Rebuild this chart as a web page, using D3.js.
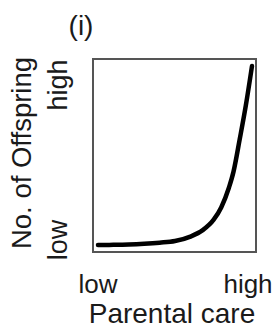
<!DOCTYPE html>
<html lang="en">

<head>
    <meta charset="UTF-8">
    <script src="https://d3js.org/d3.v7.min.js"></script>
    <title>Parental care</title>
    <style>
        body { margin: 0; background: #fff; }
        text { font-family: "Liberation Sans", Arial, sans-serif; fill: #1a1a1a; }
    </style>
</head>

<body>
    <svg width="274" height="331" id="mainsvg"></svg>
    <script>
        // parental care (0 = low, 1 = high) vs number of offspring (0 = low, 1 = high)
        const care = [0, 0.1, 0.2, 0.3, 0.4, 0.5, 0.6, 0.68, 0.75, 0.8, 0.85, 0.88, 0.92, 0.96, 1];
        const offspring = [0, 0.001, 0.003, 0.007, 0.013, 0.022, 0.047, 0.083, 0.14, 0.21, 0.32, 0.41, 0.59, 0.78, 1];
        const tickLabels = ['low', 'high'];

        const svg = d3.select('#mainsvg');
        const box = { left: 93, right: 256, top: 59, bottom: 252 };

        const xScale = d3.scaleLinear().domain([0, 1]).range([98, 252]);
        const yScale = d3.scaleLinear().domain([0, 1]).range([245, 66]);

        svg.append('rect')
            .attr('x', box.left).attr('y', box.top)
            .attr('width', box.right - box.left)
            .attr('height', box.bottom - box.top)
            .attr('fill', 'none')
            .attr('stroke', '#555')
            .attr('stroke-width', 2);

        const line = d3.line()
            .x((d, i) => xScale(care[i]))
            .y(d => yScale(d))
            .curve(d3.curveMonotoneX);

        svg.append('path')
            .attr('d', line(offspring))
            .attr('fill', 'none')
            .attr('stroke', '#000')
            .attr('stroke-width', 4.5)
            .attr('stroke-linecap', 'round');

        // x tick labels
        svg.selectAll('.xtick').data(tickLabels).enter().append('text')
            .attr('class', 'xtick')
            .attr('x', (d, i) => xScale(i) - (i ? 4 : 0))
            .attr('y', 293)
            .attr('text-anchor', 'middle')
            .attr('font-size', 26)
            .text(d => d);

        // y tick labels (rotated)
        svg.selectAll('.ytick').data(tickLabels).enter().append('text')
            .attr('class', 'ytick')
            .attr('transform', (d, i) => `translate(67, ${i === 0 ? 240 : 85}) rotate(-90)`)
            .attr('text-anchor', 'middle')
            .attr('font-size', 27)
            .text(d => d);

        svg.append('text').text('Parental care')
            .attr('x', 172).attr('y', 323)
            .attr('text-anchor', 'middle')
            .attr('font-size', 28);

        svg.append('text').text('No. of Offspring')
            .attr('transform', 'translate(31, 153) rotate(-90)')
            .attr('text-anchor', 'middle')
            .attr('font-size', 27.5);

        svg.append('text').text('(i)')
            .attr('x', 81).attr('y', 35)
            .attr('text-anchor', 'middle')
            .attr('font-size', 28);
    </script>
</body>

</html>
